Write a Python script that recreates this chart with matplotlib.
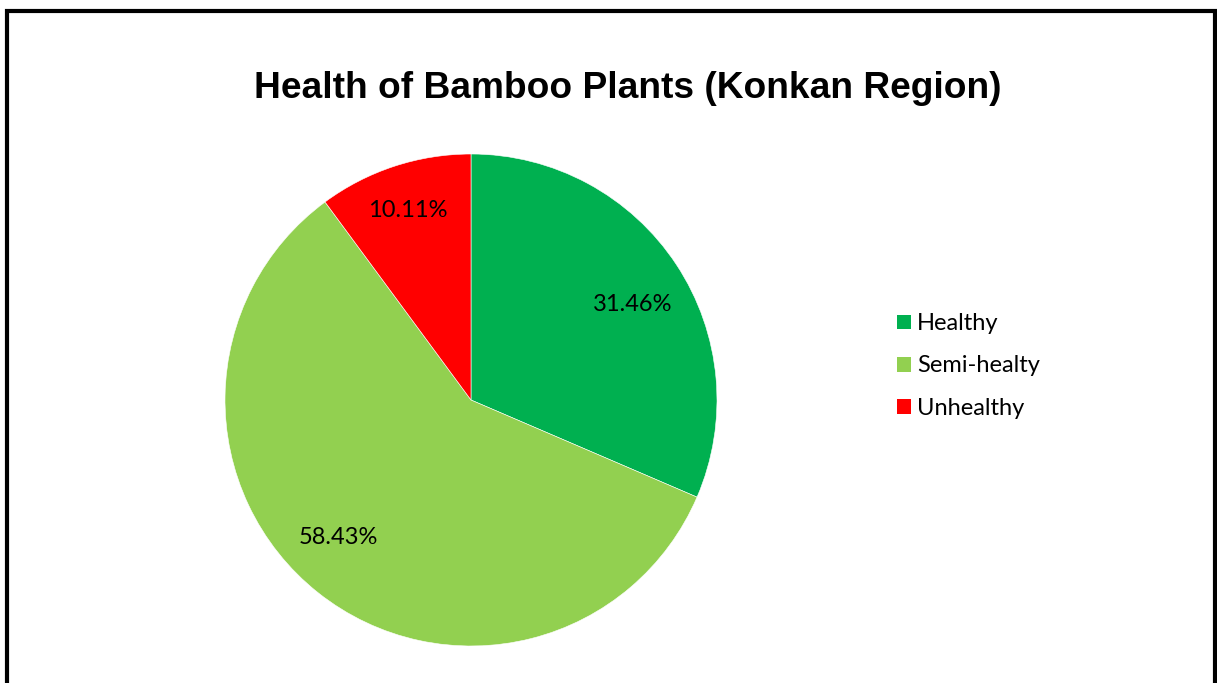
import matplotlib
matplotlib.use("Agg")
import matplotlib.pyplot as plt
from matplotlib.patches import Rectangle, Patch

categories = ["Healthy", "Semi-healty", "Unhealthy"]
values = [31.46, 58.43, 10.11]
colors = ["#00B050", "#92D050", "#FF0000"]
title = "Health of Bamboo Plants (Konkan Region)"

# data-label placement (axes units, radius = 1) to mimic the reference
label_pos = [(0.659, 0.390), (-0.541, -0.557), (-0.256, 0.772)]

W, H = 1217, 683
fig = plt.figure(figsize=(W / 100, H / 100), dpi=100)
fig.patch.set_facecolor("white")

# outer border (bottom edge cut off in reference)
fig.add_artist(Rectangle((7 / W, -0.05), (1215 - 7) / W, (H - 11) / H + 0.05,
                         transform=fig.transFigure, fill=False,
                         edgecolor="black", linewidth=3.0, clip_on=False))

cx, cy, r = 471, 400, 246
ax = fig.add_axes([(cx - r) / W, (H - cy - r) / H, 2 * r / W, 2 * r / H])
wedges, texts, autotexts = ax.pie(values, colors=colors, startangle=90,
                                  counterclock=False, radius=1.0,
                                  autopct=lambda p: f"{p:.2f}%",
                                  pctdistance=0.78,
                                  wedgeprops=dict(linewidth=0.4, edgecolor="white"),
                                  textprops=dict(fontsize=17, family="Lato", color="black"))
for t, pos in zip(autotexts, label_pos):
    t.set_position(pos)
ax.set_xlim(-1, 1)
ax.set_ylim(-1, 1)
ax.set_aspect("equal")
ax.axis("off")

fig.text(628 / W, 1 - 88 / H, title, ha="center", va="center",
         fontsize=26.7, fontweight="bold", family="Liberation Sans")

handles = [Patch(facecolor=c, edgecolor="none") for c in colors]
leg = fig.legend(handles, categories, loc="center left",
                 bbox_to_anchor=(890 / W, 1 - 366 / H), frameon=False,
                 prop=dict(family="Lato", size=17), handlelength=0.58,
                 handleheight=0.58, handletextpad=0.27, labelspacing=0.89,
                 borderaxespad=0, borderpad=0.3)

fig.savefig("out.png", dpi=100)
